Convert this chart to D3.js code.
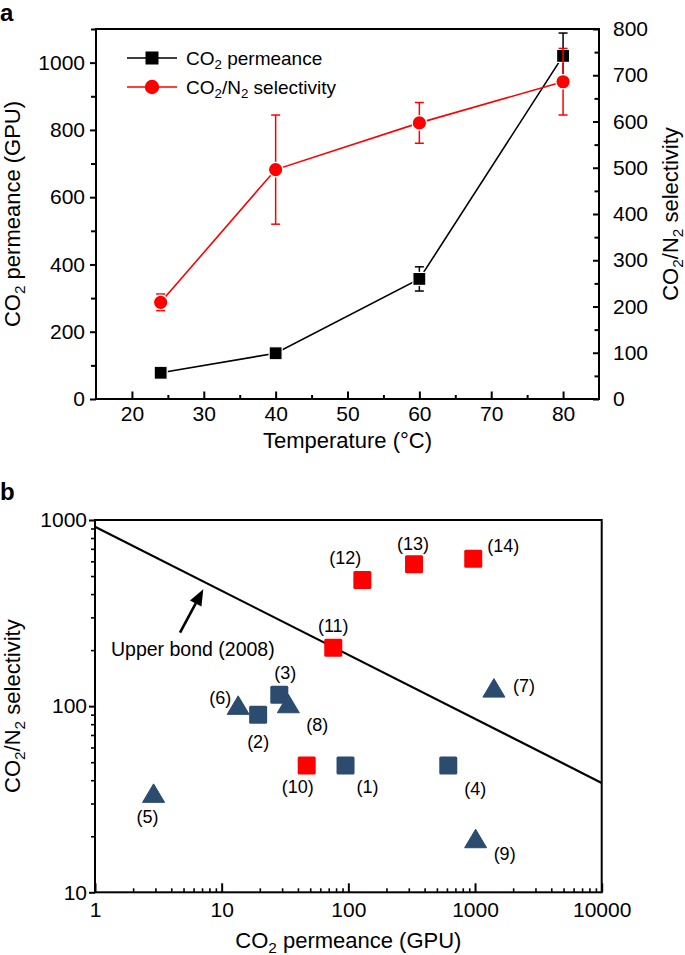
<!DOCTYPE html>
<html>
<head>
<meta charset="utf-8">
<script src="https://cdn.jsdelivr.net/npm/d3@7/dist/d3.min.js"></script>
<style>
  html, body { margin: 0; padding: 0; background: #fff; }
  svg { display: block; font-family: "Liberation Sans", Arial, Helvetica, sans-serif; }
</style>
</head>
<body>
<svg id="chart" width="685" height="955"></svg>
<script>
// ---------------- Data: panel a ----------------
const temps = [24, 40, 60, 80];
const permeance = [78, 136, 357, 1020];
const permeanceErr = [5, 6, 36, 68];
const selectivity = [209, 496, 597, 686];
const selectivityErr = [18, 118, 44, 72];
const tempTicks = [20, 30, 40, 50, 60, 70, 80];
const tempMinorTicks = [25, 35, 45, 55, 65, 75];
const permTicks = [0, 200, 400, 600, 800, 1000];
const permMinorTicks = [100, 300, 500, 700, 900, 1100];
const selTicks = [0, 100, 200, 300, 400, 500, 600, 700, 800];
const selMinorTicks = [50, 150, 250, 350, 450, 550, 650, 750];

// ---------------- Data: panel b ----------------
const refLabels = ["(1)", "(2)", "(3)", "(4)", "(5)", "(6)", "(7)", "(8)", "(9)", "(10)", "(11)", "(12)", "(13)", "(14)"];
const refPermeance = [95, 19.4, 28.5, 615, 2.9, 13.5, 1410, 33.6, 1011, 46.9, 76, 129, 330, 968];
const refSelectivity = [48, 90, 115, 48, 34, 101, 125, 103, 19.4, 48, 206, 476, 579, 620];
const refShape = ["square", "square", "square", "square", "triangle", "triangle", "triangle", "triangle", "triangle", "square", "square", "square", "square", "square"];
const refGroup = ["lit", "lit", "lit", "lit", "lit", "lit", "lit", "lit", "lit", "this", "this", "this", "this", "this"];
const upperBoundX = [1, 10000];
const upperBoundY = [920, 38.7];
const logXTicks = [1, 10, 100, 1000, 10000];
const logYTicks = [10, 100, 1000];
const logXMinor = [2, 3, 4, 5, 6, 7, 8, 9, 20, 30, 40, 50, 60, 70, 80, 90, 200, 300, 400, 500, 600, 700, 800, 900, 2000, 3000, 4000, 5000, 6000, 7000, 8000, 9000];
const logYMinor = [20, 30, 40, 50, 60, 70, 80, 90, 200, 300, 400, 500, 600, 700, 800, 900];

// ---------------- Layout (not data) ----------------
const labelOffsets = [[22, 21], [0, 27], [6, -22], [27, 23], [-6, 23], [-18, -8], [30, -2], [29, 21], [29, 15], [-9, 21], [0, -22], [-17, -22], [-1, -20], [30, -13]];
const BLUE = "#2b4b6f", RED = "#ff0000";
const TICK_FS = 21;

const svg = d3.select("#chart");

function richText(sel, parts) {
  parts.forEach(p => {
    if (p[1] === "sub") {
      sel.append("tspan").attr("font-size", "0.7em").attr("dy", "0.32em").text(p[0]);
    } else if (p[1] === "after") {
      sel.append("tspan").attr("dy", "-0.224em").text(p[0]);
    } else {
      sel.append("tspan").text(p[0]);
    }
  });
  return sel;
}

function styleAxis(g, sw) {
  g.select(".domain").remove();
  g.selectAll(".tick line").attr("stroke", "#000").attr("stroke-width", sw);
  g.selectAll(".tick text").attr("fill", "#000").attr("font-size", TICK_FS)
    .attr("font-family", "'Liberation Sans', Arial, Helvetica, sans-serif");
}

// ================= Panel a =================
const A = { l: 96, r: 599, t: 29, b: 399 };
const xA = d3.scaleLinear().domain([15, 85]).range([A.l, A.r]);
const yL = d3.scaleLinear().domain([0, 1100]).range([A.b, A.t]);
const yR = d3.scaleLinear().domain([0, 800]).range([A.b, A.t]);

const gA = svg.append("g");

// bottom axis (inward ticks)
gA.append("g").attr("transform", `translate(0,${A.b})`)
  .call(d3.axisBottom(xA).tickValues(tempMinorTicks).tickSize(-4).tickFormat(""))
  .call(g => styleAxis(g, 2));
gA.append("g").attr("transform", `translate(0,${A.b})`)
  .call(d3.axisBottom(xA).tickValues(tempTicks).tickSize(-7.5).tickPadding(15).tickFormat(d3.format("d")))
  .call(g => styleAxis(g, 2))
  .call(g => g.selectAll(".tick text").attr("dy", "0.71em").attr("y", 7));

// left axis (outward ticks)
gA.append("g").attr("transform", `translate(${A.l},0)`)
  .call(d3.axisLeft(yL).tickValues(permMinorTicks).tickSize(5).tickFormat(""))
  .call(g => styleAxis(g, 2));
gA.append("g").attr("transform", `translate(${A.l},0)`)
  .call(d3.axisLeft(yL).tickValues(permTicks).tickSize(6).tickPadding(5).tickFormat(d3.format("d")))
  .call(g => styleAxis(g, 2));

// right axis (inward ticks)
gA.append("g").attr("transform", `translate(${A.r},0)`)
  .call(d3.axisRight(yR).tickValues(selMinorTicks).tickSize(-4.5).tickFormat(""))
  .call(g => styleAxis(g, 2));
gA.append("g").attr("transform", `translate(${A.r},0)`)
  .call(d3.axisRight(yR).tickValues(selTicks).tickSize(-6).tickPadding(14).tickFormat(d3.format("d")))
  .call(g => styleAxis(g, 2));

// frame
gA.append("rect").attr("x", A.l).attr("y", A.t).attr("width", A.r - A.l).attr("height", A.b - A.t)
  .attr("fill", "none").attr("stroke", "#000").attr("stroke-width", 2);

// titles
gA.append("text").attr("x", 0).attr("y", 21).attr("font-size", 24).attr("font-weight", "bold").text("a");
gA.append("text").attr("x", (A.l + A.r) / 2).attr("y", 448).attr("text-anchor", "middle")
  .attr("font-size", 22).text("Temperature (°C)");
richText(gA.append("text").attr("transform", `translate(20,${(A.t + A.b) / 2}) rotate(-90)`)
  .attr("text-anchor", "middle").attr("font-size", 22),
  [["CO", ""], ["2", "sub"], [" permeance (GPU)", "after"]]);
richText(gA.append("text").attr("transform", `translate(678,${(A.t + A.b) / 2}) rotate(-90)`)
  .attr("text-anchor", "middle").attr("font-size", 22),
  [["CO", ""], ["2", "sub"], ["/N", "after"], ["2", "sub"], [" selectivity", "after"]]);

// series
const lineL = d3.line().x((d, i) => xA(temps[i])).y(d => yL(d));
const lineR = d3.line().x((d, i) => xA(temps[i])).y(d => yR(d));

function errBars(g, ys, errs, yScale, color) {
  ys.forEach((v, i) => {
    const x = xA(temps[i]);
    const y1 = yScale(v + errs[i]), y2 = yScale(v - errs[i]);
    g.append("line").attr("x1", x).attr("x2", x).attr("y1", y1).attr("y2", y2).attr("stroke", color).attr("stroke-width", 1.5);
    [y1, y2].forEach(yy => g.append("line").attr("x1", x - 4.5).attr("x2", x + 4.5).attr("y1", yy).attr("y2", yy)
      .attr("stroke", color).attr("stroke-width", 1.5));
  });
}

const gBlack = gA.append("g");
gBlack.append("path").datum(permeance).attr("d", lineL).attr("fill", "none").attr("stroke", "#000").attr("stroke-width", 1.6);
errBars(gBlack, permeance, permeanceErr, yL, "#000");
gBlack.selectAll("rect.m").data(permeance).enter().append("rect")
  .attr("x", (d, i) => xA(temps[i]) - 6.5).attr("y", d => yL(d) - 6.5)
  .attr("width", 13).attr("height", 13).attr("fill", "#000").attr("stroke", "#fff").attr("stroke-width", 1.2);

const gRed = gA.append("g");
gRed.append("path").datum(selectivity).attr("d", lineR).attr("fill", "none").attr("stroke", RED).attr("stroke-width", 1.6);
errBars(gRed, selectivity, selectivityErr, yR, RED);
gRed.selectAll("circle.m").data(selectivity).enter().append("circle")
  .attr("cx", (d, i) => xA(temps[i])).attr("cy", d => yR(d)).attr("r", 7.2)
  .attr("fill", RED).attr("stroke", "#fff").attr("stroke-width", 1.2);

// legend
const leg = gA.append("g");
leg.append("line").attr("x1", 127).attr("x2", 177).attr("y1", 58).attr("y2", 58).attr("stroke", "#000").attr("stroke-width", 1.6);
leg.append("rect").attr("x", 145.5).attr("y", 51.5).attr("width", 13).attr("height", 13).attr("fill", "#000");
richText(leg.append("text").attr("x", 186).attr("y", 65).attr("font-size", 19),
  [["CO", ""], ["2", "sub"], [" permeance", "after"]]);
leg.append("line").attr("x1", 127).attr("x2", 177).attr("y1", 87).attr("y2", 87).attr("stroke", RED).attr("stroke-width", 1.6);
leg.append("circle").attr("cx", 152).attr("cy", 87).attr("r", 7.2).attr("fill", RED);
richText(leg.append("text").attr("x", 186).attr("y", 94).attr("font-size", 19),
  [["CO", ""], ["2", "sub"], ["/N", "after"], ["2", "sub"], [" selectivity", "after"]]);

// ================= Panel b =================
const B = { l: 95, r: 601.7, t: 520, b: 892.3 };
const xB = d3.scaleLog().domain([1, 10000]).range([B.l, B.r]);
const yB = d3.scaleLog().domain([10, 1000]).range([B.b, B.t]);
const gB = svg.append("g");

// bottom log axis (inward)
gB.append("g").attr("transform", `translate(0,${B.b})`)
  .call(d3.axisBottom(xB).tickValues(logXMinor).tickSize(-4).tickFormat(""))
  .call(g => styleAxis(g, 1.6));
gB.append("g").attr("transform", `translate(0,${B.b})`)
  .call(d3.axisBottom(xB).tickValues(logXTicks).tickSize(-9).tickFormat(d3.format("d")))
  .call(g => styleAxis(g, 2))
  .call(g => g.selectAll(".tick text").attr("y", 10).attr("dy", "0.71em"));

// left log axis (outward)
gB.append("g").attr("transform", `translate(${B.l},0)`)
  .call(d3.axisLeft(yB).tickValues(logYMinor).tickSize(4).tickFormat(""))
  .call(g => styleAxis(g, 1.6));
gB.append("g").attr("transform", `translate(${B.l},0)`)
  .call(d3.axisLeft(yB).tickValues(logYTicks).tickSize(6).tickPadding(2).tickFormat(d3.format("d")))
  .call(g => styleAxis(g, 2));

gB.append("rect").attr("x", B.l).attr("y", B.t).attr("width", B.r - B.l).attr("height", B.b - B.t)
  .attr("fill", "none").attr("stroke", "#000").attr("stroke-width", 2);

// titles
gB.append("text").attr("x", 0).attr("y", 500).attr("font-size", 24).attr("font-weight", "bold").text("b");
richText(gB.append("text").attr("x", (B.l + B.r) / 2).attr("y", 948).attr("text-anchor", "middle").attr("font-size", 22),
  [["CO", ""], ["2", "sub"], [" permeance (GPU)", "after"]]);
richText(gB.append("text").attr("transform", `translate(20,${(B.t + B.b) / 2}) rotate(-90)`)
  .attr("text-anchor", "middle").attr("font-size", 22),
  [["CO", ""], ["2", "sub"], ["/N", "after"], ["2", "sub"], [" selectivity", "after"]]);

// upper bound line
gB.append("path").datum(upperBoundX.map((x, i) => [x, upperBoundY[i]]))
  .attr("d", d3.line().x(d => xB(d[0])).y(d => yB(d[1])))
  .attr("fill", "none").attr("stroke", "#000").attr("stroke-width", 2.2);

// arrow annotation (data coords)
const arrowFrom = [4.69, 248], arrowTo = [7.16, 424];
(function () {
  const x1 = xB(arrowFrom[0]), y1 = yB(arrowFrom[1]), x2 = xB(arrowTo[0]), y2 = yB(arrowTo[1]);
  const ang = Math.atan2(y2 - y1, x2 - x1), L = 16, W = 6.5;
  const bx = x2 - L * Math.cos(ang), by = y2 - L * Math.sin(ang);
  gB.append("line").attr("x1", x1).attr("y1", y1).attr("x2", bx).attr("y2", by).attr("stroke", "#000").attr("stroke-width", 2.6);
  const px = -Math.sin(ang), py = Math.cos(ang);
  gB.append("path").attr("d", `M${x2},${y2}L${bx + px * W},${by + py * W}L${bx - px * W},${by - py * W}Z`).attr("fill", "#000");
})();
gB.append("text").attr("x", 111).attr("y", 656).attr("font-size", 19.5).text("Upper bond (2008)");

// points
refPermeance.forEach((p, i) => {
  const cx = xB(p), cy = yB(refSelectivity[i]);
  const col = refGroup[i] === "this" ? RED : BLUE;
  if (refShape[i] === "square") {
    gB.append("rect").attr("x", cx - 9).attr("y", cy - 9).attr("width", 18).attr("height", 18)
      .attr("rx", 1.5).attr("fill", col);
  } else {
    gB.append("path").attr("d", `M${cx},${cy - 9.5}L${cx + 11},${cy + 9}L${cx - 11},${cy + 9}Z`)
      .attr("fill", col).attr("stroke", col).attr("stroke-width", 1).attr("stroke-linejoin", "round");
  }
  gB.append("text").attr("x", cx + labelOffsets[i][0]).attr("y", cy + labelOffsets[i][1]).attr("dy", "0.35em")
    .attr("text-anchor", "middle").attr("font-size", 18).text(refLabels[i]);
});
</script>
</body>
</html>
